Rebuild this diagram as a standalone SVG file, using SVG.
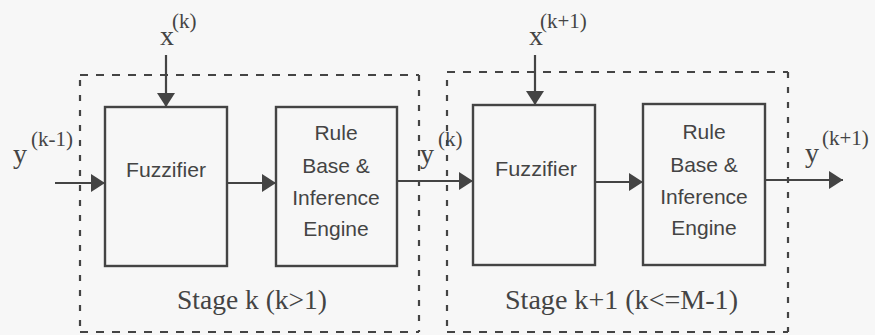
<svg xmlns="http://www.w3.org/2000/svg" width="875" height="335" viewBox="0 0 875 335">
<style>
.bg{fill:#f7f7f7}
.box{fill:none;stroke:#444;stroke-width:2.4}
.dash{fill:none;stroke:#444;stroke-width:2.2;stroke-dasharray:8 8}
.dashv{fill:none;stroke:#444;stroke-width:2.2;stroke-dasharray:6 9}
.con{fill:none;stroke:#444;stroke-width:2.2}
.lbl{font-family:"Liberation Sans",Arial,sans-serif;font-size:21px;fill:#444;text-anchor:middle}
.var{font-family:"Liberation Serif","Times New Roman",serif;font-size:28px;fill:#444}
.sup{font-family:"Liberation Serif","Times New Roman",serif;font-size:21px;fill:#444}
.stage{font-family:"Liberation Serif","Times New Roman",serif;font-size:27px;fill:#444}
</style>
<defs>
<marker id="ah" markerUnits="userSpaceOnUse" markerWidth="15" markerHeight="20" refX="14" refY="9" orient="auto">
<path d="M0,0 L14,9 L0,18 Z" fill="#444"/>
</marker>
</defs>
<rect class="bg" x="0" y="0" width="875" height="335"/>

<g id="stage1">
<line class="dash" x1="80" y1="75" x2="419" y2="75"/>
<line class="dash" x1="80" y1="332" x2="419" y2="332"/>
<line class="dashv" x1="80" y1="80" x2="80" y2="332"/>
<line class="dashv" x1="419" y1="75" x2="419" y2="332"/>
<text class="stage" x="177" y="309" textLength="150" lengthAdjust="spacingAndGlyphs">Stage k (k&gt;1)</text>
</g>
<g id="stage2">
<line class="dash" x1="447" y1="72" x2="788" y2="72"/>
<line class="dash" x1="447" y1="332" x2="788" y2="332"/>
<line class="dashv" x1="447" y1="80" x2="447" y2="332"/>
<line class="dashv" x1="788" y1="72" x2="788" y2="332"/>
<text class="stage" x="505" y="309" textLength="233" lengthAdjust="spacingAndGlyphs">Stage k+1 (k&lt;=M-1)</text>
</g>

<g id="fuzzifier1">
<rect class="box" x="105" y="107" width="122" height="159"/>
<text class="lbl" x="166" y="177" textLength="80" lengthAdjust="spacingAndGlyphs">Fuzzifier</text>
</g>
<g id="rule1">
<rect class="box" x="276" y="107" width="121" height="159"/>
<text class="lbl" x="336" y="140">Rule</text>
<text class="lbl" x="336" y="173">Base &amp;</text>
<text class="lbl" x="336" y="205">Inference</text>
<text class="lbl" x="336" y="236">Engine</text>
</g>
<g id="fuzzifier2">
<rect class="box" x="473" y="105" width="122" height="160"/>
<text class="lbl" x="536" y="176" textLength="82" lengthAdjust="spacingAndGlyphs">Fuzzifier</text>
</g>
<g id="rule2">
<rect class="box" x="643" y="104" width="122" height="161"/>
<text class="lbl" x="704" y="139">Rule</text>
<text class="lbl" x="704" y="172">Base &amp;</text>
<text class="lbl" x="704" y="204">Inference</text>
<text class="lbl" x="704" y="235">Engine</text>
</g>

<g id="labels">
<text class="var" x="160" y="45">x</text><text class="sup" x="172" y="28">(k)</text>
<text class="var" x="529" y="45">x</text><text class="sup" x="540" y="28">(k+1)</text>
<text class="var" x="13" y="163">y</text><text class="sup" x="31" y="146">(k-1)</text>
<text class="var" x="420" y="163">y</text><text class="sup" x="438" y="146">(k)</text>
<text class="var" x="805" y="162">y</text><text class="sup" x="822" y="145">(k+1)</text>
</g>

<g id="connectors">
<line class="con" x1="55" y1="183" x2="105" y2="183" marker-end="url(#ah)"/>
<line class="con" x1="166" y1="55" x2="166" y2="107" marker-end="url(#ah)"/>
<line class="con" x1="227" y1="183" x2="276" y2="183" marker-end="url(#ah)"/>
<line class="con" x1="397" y1="181" x2="473" y2="181" marker-end="url(#ah)"/>
<line class="con" x1="535" y1="55" x2="535" y2="105" marker-end="url(#ah)"/>
<line class="con" x1="595" y1="182" x2="643" y2="182" marker-end="url(#ah)"/>
<line class="con" x1="765" y1="180" x2="843" y2="180" marker-end="url(#ah)"/>
</g>
</svg>
